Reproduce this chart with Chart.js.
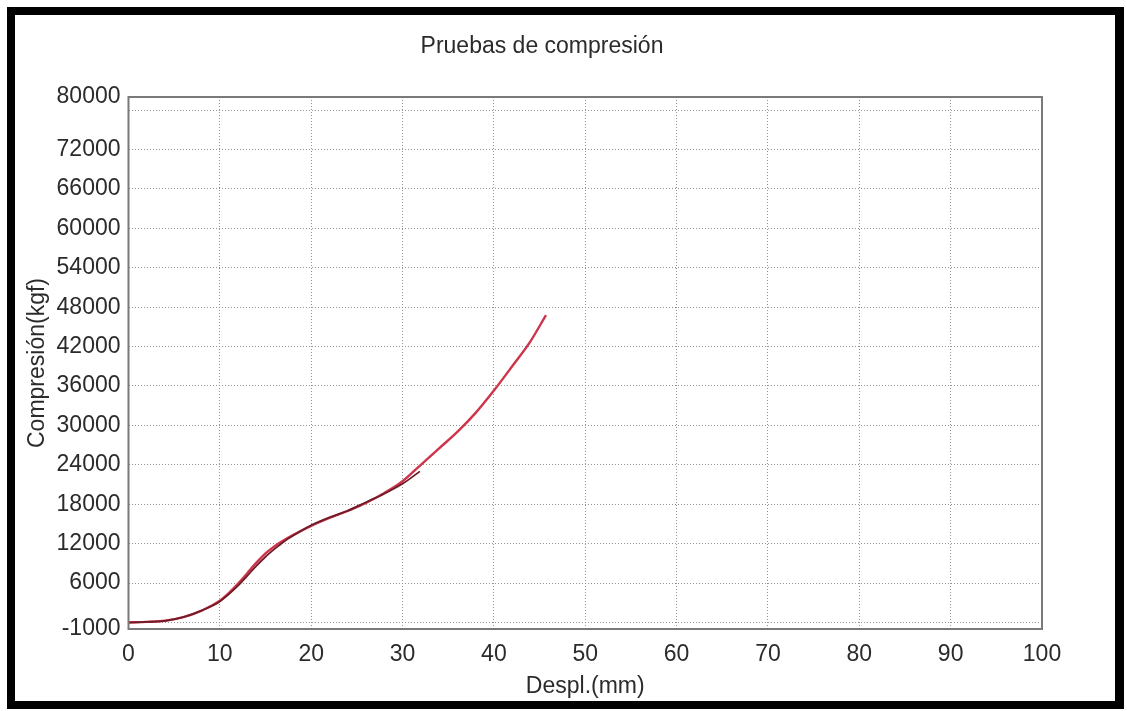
<!DOCTYPE html>
<html>
<head>
<meta charset="utf-8">
<script src="https://cdn.jsdelivr.net/npm/chart.js@4.4.1/dist/chart.umd.min.js"></script>
<style>
  html, body { margin: 0; padding: 0; background: #ffffff; }
  #wrap { position: relative; width: 1127px; height: 711px; overflow: hidden; background: #fff; }
  #c { position: absolute; left: 0; top: 0; }
  #frame { position: absolute; left: 7px; top: 7px; width: 1117px; height: 702px; box-sizing: border-box; border-style: solid; border-color: #000; border-width: 8px 9px 8px 8px; pointer-events: none; }
</style>
</head>
<body>
<div id="wrap">
  <canvas id="c" width="1127" height="711"></canvas>
  <div id="frame"></div>
</div>
<script>
// ---- data ----
const chartTitle = 'Pruebas de compresión';
const xAxisTitle = 'Despl.(mm)';
const yAxisTitle = 'Compresión(kgf)';

const redX = [0, 2, 4, 6, 8, 9, 10, 11, 12, 13, 14, 15, 16, 17, 18, 20, 22, 24, 26, 28, 30, 32, 34, 36, 38, 40, 42, 44, 45.7];
const redY = [0, 80, 250, 800, 1800, 2500, 3300, 4500, 5900, 7500, 9100, 10500, 11600, 12500, 13300, 14700, 15900, 17000, 18200, 19700, 21500, 24000, 26500, 29000, 31900, 35300, 39000, 42800, 46800];

const darkX = [0, 2, 4, 6, 8, 10, 12, 13, 14, 15, 16, 17, 18, 20, 22, 24, 26, 28, 30, 31.9];
const darkY = [0, 80, 250, 800, 1800, 3200, 5600, 7100, 8600, 10000, 11200, 12300, 13200, 14800, 16000, 17000, 18300, 19600, 21100, 23000];

const xTickValues = [0, 10, 20, 30, 40, 50, 60, 70, 80, 90, 100];
const yTickValues = [-1000, 0, 6000, 12000, 18000, 24000, 30000, 36000, 42000, 48000, 54000, 60000, 66000, 72000, 78000, 80000];
const yTickLabels = ['-1000', '', '6000', '12000', '18000', '24000', '30000', '36000', '42000', '48000', '54000', '60000', '66000', '72000', '', '80000'];

const toPoints = (xs, ys) => xs.map((x, i) => ({ x: x, y: ys[i] }));

const FONT = '"Liberation Sans", Arial, Helvetica, sans-serif';
const TXT = '#2b2b2b';
const GRID = 'rgba(135,135,135,0.9)';

const framePlugin = {
  id: 'plotFrame',
  afterDraw(chart) {
    const a = chart.chartArea, ctx = chart.ctx;
    ctx.save();
    ctx.strokeStyle = '#7a7a7a';
    ctx.lineWidth = 2;
    ctx.strokeRect(a.left, a.top, a.right - a.left, a.bottom - a.top);
    ctx.restore();
  }
};

const titlePlugin = {
  id: 'offsetTitle',
  afterDraw(chart, args, opts) {
    const ctx = chart.ctx;
    ctx.save();
    ctx.font = opts.size + 'px ' + FONT;
    ctx.fillStyle = TXT;
    ctx.textAlign = 'center';
    ctx.textBaseline = 'middle';
    ctx.fillText(opts.text, opts.x, opts.y);
    ctx.restore();
  }
};

new Chart(document.getElementById('c'), {
  type: 'scatter',
  data: {
    datasets: [
      {
        label: 'Prueba 2',
        data: toPoints(darkX, darkY),
        showLine: true,
        borderColor: 'rgb(110,28,40)',
        borderWidth: 1.8,
        pointRadius: 0,
        cubicInterpolationMode: 'monotone',
        fill: false
      },
      {
        label: 'Prueba 1',
        data: toPoints(redX, redY),
        showLine: true,
        borderColor: 'rgb(206,52,74)',
        borderWidth: 2.4,
        pointRadius: 0,
        cubicInterpolationMode: 'monotone',
        fill: false
      }
    ]
  },
  options: {
    responsive: false,
    animation: false,
    layout: { padding: { left: 20, right: 85, top: 97, bottom: 7 } },
    plugins: {
      legend: { display: false },
      tooltip: { enabled: false },
      offsetTitle: { text: chartTitle, x: 542, y: 47, size: 23 }
    },
    scales: {
      x: {
        type: 'linear',
        min: 0,
        max: 100,
        afterBuildTicks: (s) => { s.ticks = xTickValues.map(v => ({ value: v })); },
        afterFit: (s) => { s.height = 75; },
        ticks: { color: TXT, font: { family: FONT, size: 23 }, padding: 12, maxRotation: 0 },
        grid: { color: GRID, lineWidth: 1, drawTicks: false },
        border: { display: false, dash: [1, 2] },
        title: { display: true, text: xAxisTitle, color: TXT, font: { family: FONT, size: 23 }, padding: { top: 6, bottom: 4 } }
      },
      y: {
        type: 'linear',
        min: -1000,
        max: 80000,
        afterBuildTicks: (s) => { s.ticks = yTickValues.map(v => ({ value: v })); },
        afterFit: (s) => { s.width = 108.5; },
        ticks: {
          color: TXT,
          font: { family: FONT, size: 23 },
          padding: 8,
          autoSkip: false,
          callback: (v, i) => yTickLabels[i]
        },
        grid: { color: GRID, lineWidth: 1, drawTicks: false },
        border: { display: false, dash: [1, 2] },
        title: { display: true, text: yAxisTitle, color: TXT, font: { family: FONT, size: 23 }, padding: { top: 4, bottom: 0 } }
      }
    }
  },
  plugins: [framePlugin, titlePlugin]
});
</script>
</body>
</html>
